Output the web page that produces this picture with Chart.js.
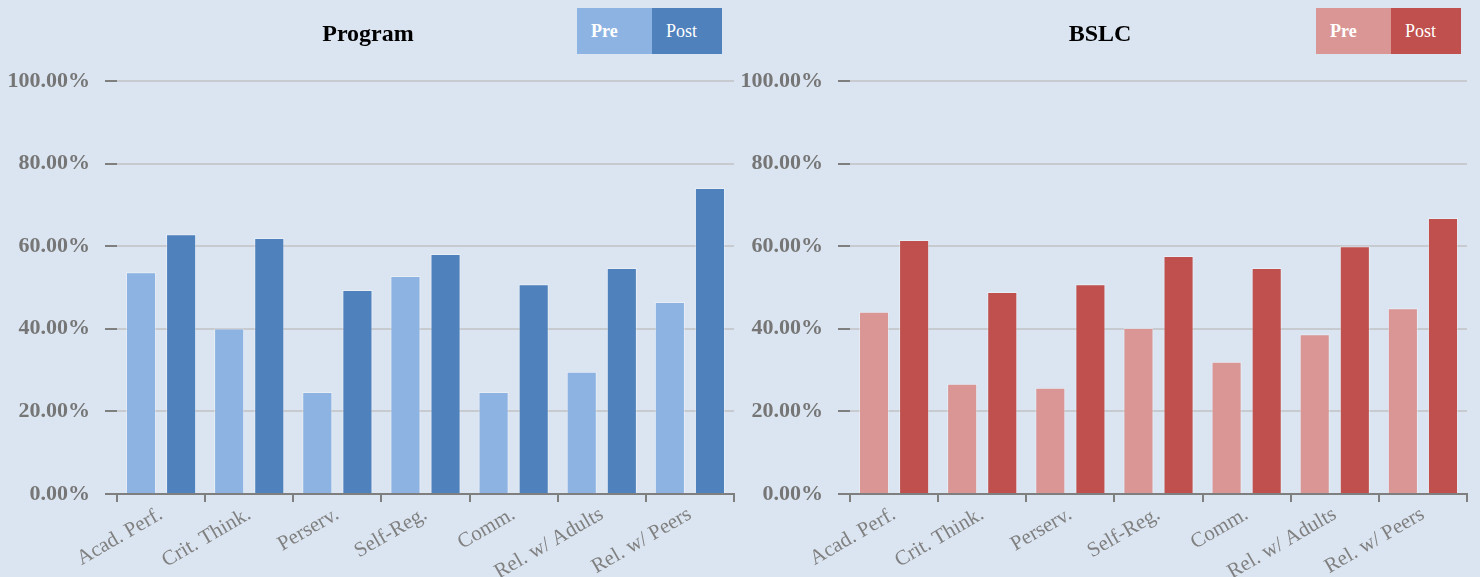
<!DOCTYPE html>
<html lang="en">
<head>
    <meta charset="UTF-8">
    <title>Program vs BSLC</title>
    <script src="https://cdn.jsdelivr.net/npm/chart.js"></script>
    <style>
        body {
            margin: 0;
            background: #dbe5f1;
            font-family: "Liberation Serif", "Times New Roman", serif;
        }
        .wrap {
            position: relative;
            width: 1480px;
            height: 577px;
        }
        canvas { position: absolute; top: 0; }
        .title {
            position: absolute;
            top: 21px;
            font-size: 24px;
            line-height: 24px;
            font-weight: bold;
            color: #000;
            text-align: center;
        }
        .key {
            position: absolute;
            top: 8px;
            height: 46px;
            line-height: 46px;
            font-size: 18px;
            color: #fff;
            padding-left: 14px;
            box-sizing: border-box;
        }
        .key.pre { font-weight: bold; }
    </style>
</head>
<body>
    <div class="wrap">
        <canvas id="programChart" width="740" height="577" style="left:0"></canvas>
        <canvas id="bslcChart" width="740" height="577" style="left:740px"></canvas>

        <div class="title" style="left:268px;width:200px">Program</div>
        <div class="key pre" style="left:577px;width:75px;background:#8db3e2">Pre</div>
        <div class="key" style="left:652px;width:70px;background:#4f81bd">Post</div>

        <div class="title" style="left:1000px;width:200px">BSLC</div>
        <div class="key pre" style="left:1316px;width:75px;background:#da9694">Pre</div>
        <div class="key" style="left:1391px;width:70px;background:#c0504d">Post</div>
    </div>

    <script>
        // Categories and values (percent)
        const categories = ["Acad. Perf.", "Crit. Think.", "Perserv.", "Self-Reg.", "Comm.", "Rel. w/ Adults", "Rel. w/ Peers"];
        const programPre  = [53.7, 40.1, 24.7, 52.8, 24.7, 29.6, 46.5];
        const programPost = [62.9, 62.0, 49.4, 58.1, 50.8, 54.7, 74.1];
        const bslcPre  = [44.1, 26.7, 25.7, 40.2, 32.0, 38.7, 45.0];
        const bslcPost = [61.5, 48.9, 50.8, 57.6, 54.7, 60.0, 66.8];
        const yTicks = [0, 20, 40, 60, 80, 100];

        const serif = '"Liberation Serif", "Times New Roman", serif';

        function makeChart(id, pre, post, preColor, postColor, axisWidth, rightPad) {
            const ctx = document.getElementById(id).getContext('2d');
            return new Chart(ctx, {
                type: 'bar',
                data: {
                    labels: categories,
                    datasets: [
                        { label: "Pre", data: pre, backgroundColor: preColor,
                          borderColor: 'rgba(255,255,255,0.35)', borderWidth: 1 },
                        { label: "Post", data: post, backgroundColor: postColor,
                          borderColor: 'rgba(255,255,255,0.35)', borderWidth: 1 }
                    ]
                },
                options: {
                    responsive: false,
                    animation: false,
                    barPercentage: 0.75,
                    categoryPercentage: 0.91,
                    layout: { padding: { top: 81, right: rightPad, bottom: 0, left: 0 } },
                    plugins: {
                        legend: { display: false },
                        tooltip: { enabled: false }
                    },
                    scales: {
                        x: {
                            border: { display: true, color: '#7f7f7f', width: 2 },
                            grid: {
                                offset: true,
                                drawOnChartArea: false,
                                tickLength: 8,
                                tickColor: '#7f7f7f',
                                lineWidth: 2
                            },
                            ticks: {
                                autoSkip: false,
                                minRotation: 30,
                                maxRotation: 30,
                                color: '#808080',
                                padding: 0,
                                font: { family: serif, size: 21 }
                            },
                            afterFit: (scale) => { scale.height = 83; }
                        },
                        y: {
                            min: 0,
                            max: 100,
                            border: { display: false },
                            afterBuildTicks: (scale) => {
                                scale.ticks = yTicks.map(v => ({ value: v }));
                            },
                            grid: {
                                color: '#c7cacf',
                                lineWidth: 2,
                                tickLength: 12,
                                tickColor: '#7f7f7f'
                            },
                            ticks: {
                                color: '#767676',
                                padding: 15,
                                font: { family: serif, size: 22, weight: 'bold' },
                                callback: v => v.toFixed(2) + '%'
                            },
                            afterFit: (scale) => { scale.width = axisWidth; }
                        }
                    }
                }
            });
        }

        makeChart('programChart', programPre, programPost, '#8db3e2', '#4f81bd', 117, 6);
        makeChart('bslcChart', bslcPre, bslcPost, '#da9694', '#c0504d', 110, 13);
    </script>
</body>
</html>
